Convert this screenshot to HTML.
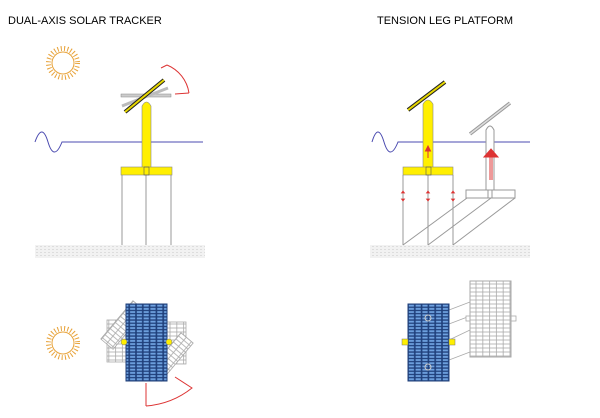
<!DOCTYPE html>
<html><head><style>body{margin:0;background:#fff}svg{display:block}</style></head><body>
<svg width="600" height="418" xmlns="http://www.w3.org/2000/svg">
<defs>
<pattern id="cells" width="6.8" height="3.2" patternUnits="userSpaceOnUse"><rect width="6.8" height="3.2" fill="#1f3f7a"/><rect x="0.8" y="0.7" width="5.2" height="1.9" fill="#6fa2e0"/></pattern>
<pattern id="gcells" width="6.8" height="4" patternUnits="userSpaceOnUse"><rect width="6.8" height="4" fill="#fff" stroke="#aaa" stroke-width="0.8"/></pattern>
<pattern id="gnd" width="4" height="3" patternUnits="userSpaceOnUse"><rect width="4" height="3" fill="#f2f2f2"/><rect x="0" y="0" width="2" height="1" fill="#ddd"/></pattern>
</defs>
<g font-family="Liberation Sans, sans-serif" font-size="11" fill="#000">
<text x="8" y="24">DUAL-AXIS SOLAR TRACKER</text>
<text x="377" y="24">TENSION LEG PLATFORM</text>
</g>
<g stroke="#e8a33a" fill="none" stroke-width="1">
<circle cx="63" cy="63" r="11"/><circle cx="63" cy="343" r="11"/>
<g stroke-dasharray="1 2.3" stroke-width="5"><circle cx="63" cy="63" r="14.5"/><circle cx="63" cy="343" r="14.5"/></g>
</g>
<rect x="35" y="245" width="170" height="13" fill="url(#gnd)"/>
<rect x="370" y="245" width="160" height="13" fill="url(#gnd)"/>
<g stroke="#4b4bb0" fill="none" stroke-width="1">
<path d="M35 142 Q42 122 48 142 T62 142 L203 142"/>
<path d="M372 142 Q378 122 384 142 T398 142 L530 142"/>
</g>
<g stroke="#999" stroke-width="1">
<line x1="122" y1="175" x2="122" y2="245"/><line x1="146" y1="175" x2="146" y2="245"/><line x1="171" y1="175" x2="171" y2="245"/>
</g>
<rect x="121" y="94" width="50" height="3" fill="#ccc" stroke="#888" stroke-width="0.5"/>
<line x1="122" y1="106" x2="168" y2="88" stroke="#bbb" stroke-width="3"/>
<path d="M142 168 V106 Q146.5 98 151 106 V168 Z" fill="#ffef00" stroke="#888" stroke-width="0.6"/>
<rect x="121" y="167" width="51" height="8" fill="#ffef00" stroke="#888" stroke-width="0.6"/>
<rect x="144" y="167" width="5" height="8" fill="none" stroke="#555" stroke-width="0.6"/>
<line x1="125" y1="112" x2="164" y2="80" stroke="#222" stroke-width="4"/>
<line x1="125" y1="112" x2="164" y2="80" stroke="#e8d800" stroke-width="2"/>
<path d="M167 65 A36 36 0 0 1 189 93" fill="none" stroke="#d33" stroke-width="1"/>
<line x1="167" y1="65" x2="161" y2="68" stroke="#d33"/><line x1="189" y1="93" x2="175" y2="94" stroke="#d33"/>
<g stroke="#999" stroke-width="1" fill="none">
<line x1="403" y1="175" x2="403" y2="245"/><line x1="428" y1="175" x2="428" y2="245"/><line x1="453" y1="175" x2="453" y2="245"/>
<line x1="403" y1="245" x2="467" y2="198"/><line x1="428" y1="245" x2="491" y2="198"/><line x1="453" y1="245" x2="515" y2="198"/>
<path d="M486 190 V130 Q490 122 494 130 V190 Z" fill="#fff"/>
<rect x="466" y="190" width="49" height="8" fill="#fff"/>
<rect x="488" y="190" width="4" height="8"/>
</g>
<line x1="470" y1="134" x2="510" y2="103" stroke="#999" stroke-width="3.5"/>
<line x1="470" y1="134" x2="510" y2="103" stroke="#ddd" stroke-width="1.5"/>
<path d="M423 168 V104 Q428 96 433 104 V168 Z" fill="#ffef00" stroke="#888" stroke-width="0.6"/>
<rect x="403" y="167" width="50" height="8" fill="#ffef00" stroke="#888" stroke-width="0.6"/>
<rect x="426" y="167" width="5" height="8" fill="none" stroke="#555" stroke-width="0.6"/>
<line x1="408" y1="110" x2="445" y2="82" stroke="#222" stroke-width="4"/>
<line x1="408" y1="110" x2="445" y2="82" stroke="#e8d800" stroke-width="2"/>
<g stroke="#d33" fill="#d33">
<line x1="428" y1="158" x2="428" y2="150"/><path d="M425.5 151 L428 146 L430.5 151Z"/>
<line x1="490" y1="180" x2="490" y2="157"/><line x1="492" y1="180" x2="492" y2="157"/>
<path d="M484 157 L491 149 L498 157Z"/>
<g stroke-width="0.8">
<path d="M401.5 193 L403 191 L404.5 193Z M401.5 199 L403 201 L404.5 199Z"/>
<path d="M426.5 193 L428 191 L429.5 193Z M426.5 199 L428 201 L429.5 199Z"/>
<path d="M451.5 193 L453 191 L454.5 193Z M451.5 199 L453 201 L454.5 199Z"/>
</g>
</g>
<g stroke="#aaa" stroke-width="0.8">
<rect x="107" y="320" width="20" height="42" fill="url(#gcells)"/>
<rect x="166" y="322" width="20" height="42" fill="url(#gcells)"/>
<rect x="115" y="300" width="16" height="50" fill="url(#gcells)" transform="rotate(40 123 325)"/>
<rect x="163" y="332" width="16" height="50" fill="url(#gcells)" transform="rotate(40 171 357)"/>
</g>
<rect x="126" y="304" width="41" height="77" fill="url(#cells)" stroke="#1f3f7a"/>
<circle cx="124" cy="342" r="3" fill="#ffef00" stroke="#777" stroke-width="0.5"/>
<circle cx="169" cy="342" r="3" fill="#ffef00" stroke="#777" stroke-width="0.5"/>
<path d="M146 383 V406 M146 406 Q172 404 192 388 L175 377" fill="none" stroke="#d33"/>
<g stroke="#aaa" stroke-width="0.8" fill="none">
<line x1="449" y1="310" x2="470" y2="302"/><line x1="449" y1="324" x2="470" y2="316"/>
<line x1="449" y1="360" x2="470" y2="352"/><line x1="449" y1="340" x2="470" y2="330"/>
<rect x="466" y="316" width="50" height="5" fill="#fff"/>
</g>
<rect x="470" y="281" width="41" height="76" fill="url(#gcells)" stroke="#aaa"/>
<rect x="408" y="304" width="41" height="77" fill="url(#cells)" stroke="#1f3f7a"/>
<rect x="402" y="339" width="6" height="6" fill="#ffef00" stroke="#777" stroke-width="0.5"/>
<rect x="449" y="339" width="6" height="6" fill="#ffef00" stroke="#777" stroke-width="0.5"/>
<circle cx="428" cy="318" r="3" fill="none" stroke="#ccc"/><circle cx="428" cy="367" r="3" fill="none" stroke="#ccc"/>
</svg>
</body></html>
